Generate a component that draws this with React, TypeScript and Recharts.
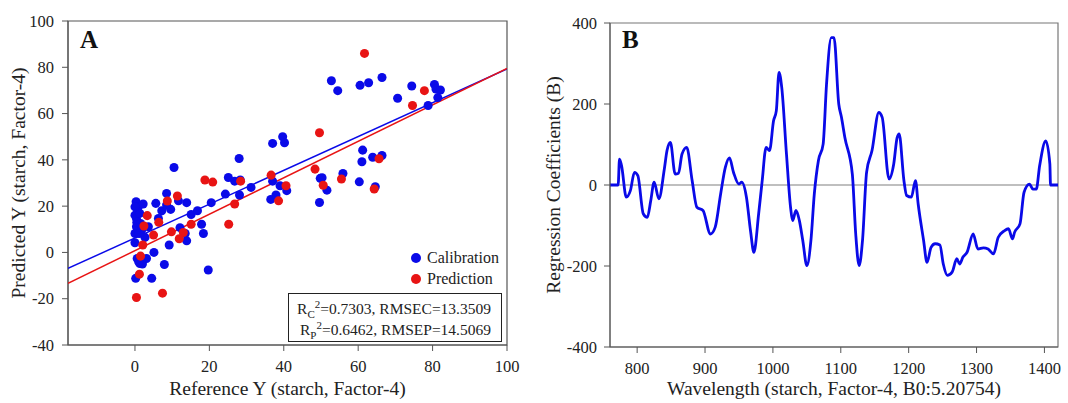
import {
  ScatterChart,
  Scatter,
  LineChart,
  Line,
  XAxis,
  YAxis,
  ReferenceLine,
  ReferenceArea,
} from 'recharts';

// Panel A: reference vs predicted starch
const calRef = [
  0.3, 0, 0.9, 2.2, 0.4, 0, 1.8, 2.7, 3.6, 0, 0.4, 1.3, 0.6, 1.3, 2.2, 3.1, 0.2, 4.5, 5.1, 7.9,
  5.6, 6.3, 7.2, 8.5, 8.5, 9.6, 9.2, 10.5, 11.7, 12.1, 13.9, 13.9, 13.5, 15.1, 16.8, 17.9, 18.4,
  19.7, 20.5, 24.3, 25.1, 26.8, 28, 28.1, 28.3, 31.2, 36.5, 37, 37.9, 37, 39, 39.7, 40.2, 40.8,
  49.6, 49.8, 50.3, 51.6, 52.8, 54.5, 55.9, 60.3, 60.5, 61, 61.2, 62.8, 63.9, 64.6, 66.4, 66.4,
  70.6, 74.4, 78.8, 80.5, 80.9, 82.1, 81.4, 0, 1.1, 0.5, 1.5, 2, 1,
];
const calPred = [
  21.9, 16.1, 19.7, 20.9, 11.1, 8.2, 9.7, 6.5, 11.1, 4.2, 14.7, 16.9, -2.6, -4.8, -3.3, -2.6,
  -11.2, -11.2, 0, -5.2, 21.2, 14.7, 18, 25.5, 20.5, 18.6, 3.2, 36.7, 22.3, 10.7, 21.5, 5, 8.2,
  16.4, 18, 12.2, 8.2, -7.6, 21.5, 25.2, 32.4, 30.8, 40.6, 24.8, 31.3, 28.1, 22.9, 47.1, 24.8,
  30.8, 28.8, 50, 47.4, 26.7, 21.6, 32, 32.3, 26.9, 74.2, 69.9, 34.1, 30.5, 72.2, 39.2, 44.2,
  73.3, 41.1, 28.4, 75.6, 41.9, 66.6, 71.9, 63.5, 72.6, 70.6, 70.2, 66.9, 19.7, 8.2, 13, 12.5,
  -5, -4,
];
const valRef = [
  61.7, 49.6, 77.8, 74.6, 65.6, 64.3, 55.5, 50.6, 48.4, 40.6, 38.6, 36.6, 28.4, 26.8, 25.2,
  20.9, 18.8, 15.1, 13, 11.9, 11.4, 9.8, 8.7, 6.4, 5, 3.3, 2.4, 2.1, 1.5, 1.2, 0.4, 7.4,
];
const valPred = [
  86, 51.7, 69.9, 63.5, 40.5, 27.4, 31.7, 29, 36, 28.8, 22.3, 33.4, 30.8, 20.9, 12.2, 30.4,
  31.3, 12.2, 8.6, 5.9, 24.4, 8.9, 22.2, 13, 7.5, 15.9, 11.4, 3.2, -1.6, -9.4, -19.5, -17.6,
];
const calFitRef = [-18, 100];
const calFitPred = [-6.9, 79.3];
const valFitRef = [-18, 100];
const valFitPred = [-13.4, 79.5];
const aXTicks = [0, 20, 40, 60, 80, 100];
const aYTicks = [-40, -20, 0, 20, 40, 60, 80, 100];

// Panel B: regression coefficients
const wavelength = [
  760, 772, 774, 777, 784, 790, 796, 801, 809, 815, 820, 825, 832, 840, 844, 849, 856, 861, 866,
  873, 881, 888, 897, 908, 915, 923, 930, 936, 942, 950, 954, 961, 967, 972, 979, 984, 990, 995,
  1001, 1005, 1009, 1013, 1020, 1026, 1029, 1034, 1039, 1044, 1050, 1056, 1061, 1067, 1074, 1079,
  1086, 1090, 1097, 1101, 1106, 1117, 1122, 1127, 1132, 1138, 1146, 1156, 1161, 1171, 1178, 1183,
  1186, 1193, 1197, 1204, 1210, 1214, 1222, 1227, 1233, 1239, 1246, 1251, 1257, 1264, 1271, 1275,
  1280, 1286, 1295, 1302, 1310, 1317, 1325, 1332, 1341, 1347, 1353, 1356, 1364, 1370, 1378, 1383,
  1388, 1393, 1402, 1408, 1409, 1420,
];
const coefficient = [
  0, 0, 64, 48, -30, -14, 31, 23, -71, -80, -39, 7, -34, 39, 85, 105, 27, 29, 76, 93, 11, -55,
  -63, -121, -104, -22, 44, 67, 31, 2, 7, -30, -113, -166, -71, 7, 93, 85, 159, 183, 278, 241, 76,
  -55, -88, -63, -88, -137, -199, -137, -22, 60, 101, 249, 364, 364, 200, 167, 117, 27, -121, -199,
  -137, 31, 85, 179, 167, 15, 52, 117, 126, 11, -26, -30, 11, -47, -137, -191, -154, -145, -148,
  -195, -223, -215, -182, -195, -178, -166, -121, -158, -155, -158, -170, -129, -113, -108, -133,
  -117, -96, -18, 2, -10, -10, 48, 109, 52, 0, 0,
];
const bXTicks = [800, 900, 1000, 1100, 1200, 1300, 1400];
const bYTicks = [-400, -200, 0, 200, 400];

const BLUE = '#0a0ae8';
const RED = '#e81414';
const FONT = '"Liberation Serif", "Times New Roman", serif';
const axisLabel = { fill: '#222', fontSize: 19.5, fontFamily: FONT, textAnchor: 'middle' as const };

const calData = calRef.map((x, i) => ({ x, y: calPred[i] }));
const valData = valRef.map((x, i) => ({ x, y: valPred[i] }));
const calFit = calFitRef.map((x, i) => ({ x, y: calFitPred[i] }));
const valFit = valFitRef.map((x, i) => ({ x, y: valFitPred[i] }));
const coefData = wavelength.map((w, i) => ({ w, b: coefficient[i] }));

const legendItems = [
  { name: 'Calibration', color: BLUE },
  { name: 'Prediction', color: RED },
];

const XTick = ({ x, y, payload }: any) => (
  <text x={x} y={y} dy="0.75em" textAnchor="middle" fontSize={16.5} fontFamily={FONT} fill="#222">
    {payload.value}
  </text>
);

const YTick = ({ x, y, payload }: any) => (
  <text x={x} y={y} dy="0.35em" textAnchor="end" fontSize={16.5} fontFamily={FONT} fill="#222">
    {payload.value}
  </text>
);

const noDot = () => <g />;

const sub = { fontSize: 11, position: 'relative' as const, top: 4 };
const sup = { fontSize: 11, position: 'relative' as const, top: -6 };

export default function App() {
  return (
    <div
      style={{
        position: 'absolute',
        left: 0,
        top: 0,
        width: 1068,
        height: 403,
        background: '#fff',
        fontFamily: FONT,
      }}
    >
      <div style={{ position: 'absolute', left: 0, top: 0, width: 540, height: 403 }}>
        <ScatterChart width={540} height={403} margin={{ top: 21, right: 33, bottom: 3, left: 18 }}>
          <XAxis
            type="number"
            dataKey="x"
            domain={[-18, 100]}
            ticks={aXTicks}
            allowDataOverflow
            height={55}
            tick={<XTick />}
            tickSize={6}
            tickMargin={9}
            stroke="#555"
            label={{ value: 'Reference Y (starch, Factor-4)', position: 'insideBottom', offset: 5, style: axisLabel }}
          />
          <YAxis
            type="number"
            dataKey="y"
            domain={[-40, 100]}
            ticks={aYTicks}
            allowDataOverflow
            width={50}
            tick={<YTick />}
            tickSize={6}
            tickMargin={8}
            stroke="#555"
            label={{ value: 'Predicted Y (starch, Factor-4)', angle: -90, position: 'insideLeft', offset: 0, style: axisLabel }}
          />
          <ReferenceArea x1={-18} x2={100} y1={-40} y2={100} fill="none" fillOpacity={0} stroke="#555" strokeWidth={1.2} />
          <Scatter data={calFit} line={{ stroke: BLUE, strokeWidth: 1.5 }} shape={noDot} legendType="none" isAnimationActive={false} />
          <Scatter data={valFit} line={{ stroke: RED, strokeWidth: 1.5 }} shape={noDot} legendType="none" isAnimationActive={false} />
          <Scatter name="Calibration" data={calData} fill={BLUE} shape="circle" isAnimationActive={false} />
          <Scatter name="Prediction" data={valData} fill={RED} shape="circle" isAnimationActive={false} />
        </ScatterChart>
        <div
          style={{
            position: 'absolute',
            left: 411,
            top: 247,
            fontSize: 16,
            color: '#222',
            lineHeight: '21px',
          }}
        >
          {legendItems.map((it) => (
            <div key={it.name} style={{ display: 'flex', alignItems: 'center' }}>
              <span
                style={{
                  width: 10,
                  height: 10,
                  borderRadius: '50%',
                  background: it.color,
                  display: 'inline-block',
                  marginRight: 6,
                }}
              />
              {it.name}
            </div>
          ))}
        </div>
        <div style={{ position: 'absolute', left: 80, top: 26, fontSize: 25, fontWeight: 700, color: '#111' }}>
          A
        </div>
        <div
          style={{
            position: 'absolute',
            left: 288,
            top: 293,
            width: 214,
            height: 49,
            border: '1.5px solid #222',
            fontSize: 15.5,
            color: '#222',
            textAlign: 'right',
            paddingRight: 10,
            boxSizing: 'border-box',
            lineHeight: '20px',
            paddingTop: 5,
            whiteSpace: 'nowrap',
          }}
        >
          <div>
            R<span style={sub}>C</span>
            <span style={sup}>2</span>=0.7303, RMSEC=13.3509
          </div>
          <div>
            R<span style={sub}>P</span>
            <span style={sup}>2</span>=0.6462, RMSEP=14.5069
          </div>
        </div>
      </div>
      <div style={{ position: 'absolute', left: 540, top: 0, width: 528, height: 403 }}>
        <LineChart width={528} height={403} data={coefData} margin={{ top: 23, right: 10, bottom: 3, left: 13 }}>
          <XAxis
            type="number"
            dataKey="w"
            domain={[760, 1420]}
            ticks={bXTicks}
            allowDataOverflow
            height={53}
            tick={<XTick />}
            tickSize={6}
            tickMargin={9}
            stroke="#555"
            label={{ value: 'Wavelength (starch, Factor-4, B0:5.20754)', position: 'insideBottom', offset: 5, style: axisLabel }}
          />
          <YAxis
            type="number"
            domain={[-400, 400]}
            ticks={bYTicks}
            allowDataOverflow
            width={57}
            tick={<YTick />}
            tickSize={6}
            tickMargin={7}
            stroke="#555"
            label={{ value: 'Regression Coefficients (B)', angle: -90, position: 'insideLeft', offset: 0, style: axisLabel }}
          />
          <ReferenceArea x1={760} x2={1420} y1={-400} y2={400} fill="none" fillOpacity={0} stroke="#777" strokeWidth={1.2} />
          <ReferenceLine y={0} stroke="#aaa" strokeWidth={1.5} />
          <Line type="monotone" dataKey="b" stroke={BLUE} strokeWidth={2.8} dot={false} isAnimationActive={false} />
        </LineChart>
        <div style={{ position: 'absolute', left: 82, top: 26, fontSize: 25, fontWeight: 700, color: '#111' }}>
          B
        </div>
      </div>
    </div>
  );
}
